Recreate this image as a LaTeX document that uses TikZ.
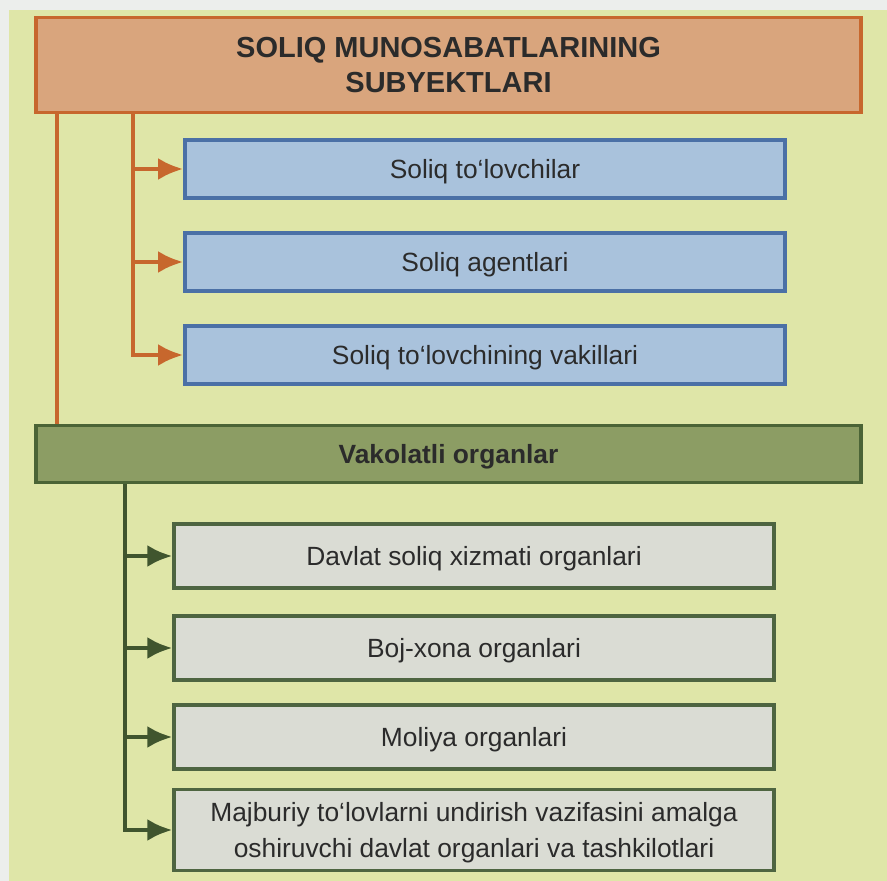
\documentclass[tikz,border=0pt]{standalone}
\usepackage{fontspec}
\setmainfont{Liberation Sans}
\usetikzlibrary{arrows.meta}
\definecolor{bgside}{HTML}{ECEEEC}
\definecolor{bgmain}{HTML}{DFE6A8}
\definecolor{headfill}{HTML}{D9A57D}
\definecolor{headline}{HTML}{C7672D}
\definecolor{subjfill}{HTML}{A9C2DC}
\definecolor{subjline}{HTML}{4B70A6}
\definecolor{organfill}{HTML}{8C9D64}
\definecolor{organline}{HTML}{4B6436}
\definecolor{unitfill}{HTML}{DADCD4}
\definecolor{unitline}{HTML}{4E6541}
\definecolor{txt}{HTML}{2B2B2B}
\tikzset{>={Latex[length=0.5cm,width=0.44cm]}}
\tikzset{
  head/.style={draw=headline,fill=headfill,line width=2.2pt,minimum width=16.5cm,
    minimum height=1.9cm,align=center,text=txt,font=\fontsize{16.5}{19.5}\selectfont\bfseries},
  subj/.style={draw=subjline,fill=subjfill,line width=2.2pt,minimum width=12cm,
    minimum height=1.16cm,text depth=0pt,text=txt,font=\fontsize{15}{18}\selectfont},
  organ/.style={draw=organline,fill=organfill,line width=2.2pt,minimum width=16.5cm,
    minimum height=1.14cm,text depth=0pt,text=txt,font=\fontsize{15}{18}\selectfont\bfseries},
  unit/.style={draw=unitline,fill=unitfill,line width=1.8pt,minimum width=12cm,
    minimum height=1.28cm,text depth=0pt,align=center,text=txt,font=\fontsize{15}{20.5}\selectfont},
  oline/.style={headline,line width=2.4pt},
  gline/.style={organline!85!black,line width=2.8pt}
}

\begin{document}
\begin{tikzpicture}[x=0.02cm,y=-0.02cm]
    % page
    \useasboundingbox (0,0) rectangle (887,881);
    \fill[bgside] (0,0) rectangle (887,881);
    \fill[bgmain] (9,10) rectangle (887,881);
    % boxes
    \node[head] (title) at (448.5,65) {SOLIQ MUNOSABATLARINING\\SUBYEKTLARI};
    \node[subj] (s1) at (485,169) {Soliq to‘lovchilar};
    \node[subj] (s2) at (485,262) {Soliq agentlari};
    \node[subj] (s3) at (485,355) {Soliq to‘lovchining vakillari};
    \node[organ] (organ) at (448.5,454) {Vakolatli organlar};
    \node[unit] (v1) at (474,556) {Davlat soliq xizmati organlari};
    \node[unit] (v2) at (474,648) {Boj-xona organlari};
    \node[unit] (v3) at (474,737) {Moliya organlari};
    \node[unit,minimum height=1.62cm] (v4) at (474,830)
      {Majburiy to‘lovlarni undirish vazifasini amalga\\oshiruvchi davlat organlari va tashkilotlari};
    % connectors
    \coordinate (ol) at (57,0);
    \coordinate (ob) at (133,0);
    \coordinate (gb) at (125,0);
    \draw[oline] (title.south -| ol) -- (organ.north -| ol);
    \draw[oline,->] (title.south -| ob) |- (s3.west);
    \foreach\s in {s1,s2}{
     \draw[oline,->] (\s.west -| ob) -- (\s.west);}
    \draw[gline,->] (organ.south -| gb) |- (v4.west);
    \foreach\v in {v1,v2,v3}{
     \draw[gline,->] (\v.west -| gb) -- (\v.west);}
\end{tikzpicture}
\end{document}
